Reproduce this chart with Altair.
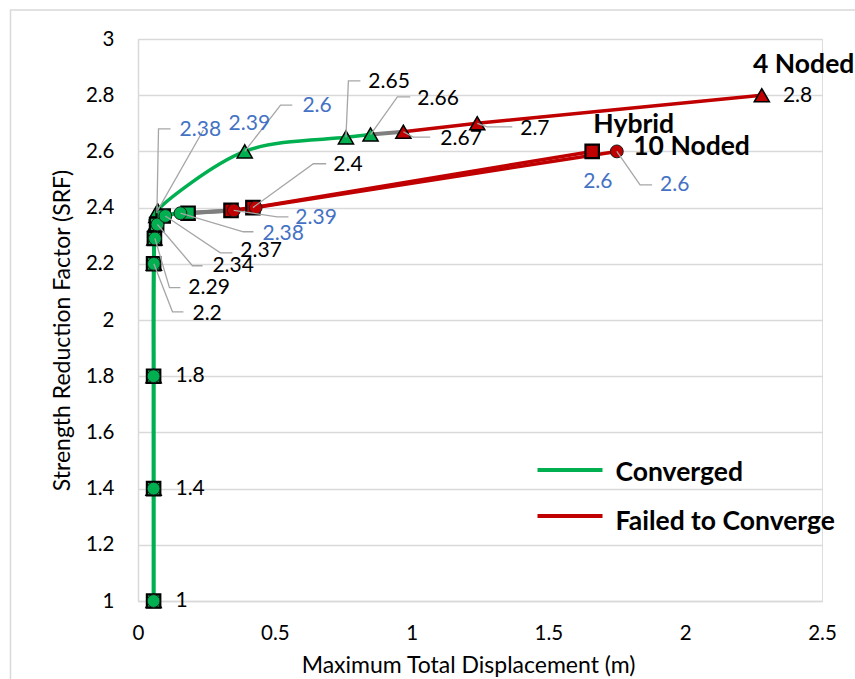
import altair as alt
import pandas as pd

# ---------------- data ----------------
srf_4n = [1.0, 1.4, 1.8, 2.2, 2.29, 2.34, 2.37, 2.38, 2.39, 2.6, 2.65, 2.66, 2.67, 2.7, 2.8]
disp_4n = [0.057, 0.057, 0.057, 0.058, 0.060, 0.064, 0.067, 0.069, 0.072, 0.39, 0.76, 0.85, 0.97, 1.24, 2.28]
stat_4n = ["C"] * 12 + ["F"] * 3

srf_hy = [1.0, 1.4, 1.8, 2.2, 2.29, 2.34, 2.37, 2.38, 2.39, 2.4, 2.6]
disp_hy = [0.057, 0.057, 0.057, 0.057, 0.060, 0.068, 0.092, 0.183, 0.34, 0.42, 1.66]
stat_hy = ["C"] * 8 + ["F"] * 3

srf_10 = [1.0, 1.4, 1.8, 2.2, 2.29, 2.34, 2.37, 2.38, 2.39, 2.4, 2.6]
disp_10 = [0.057, 0.057, 0.057, 0.058, 0.062, 0.071, 0.10, 0.155, 0.35, 0.43, 1.75]
stat_10 = ["C"] * 8 + ["F"] * 3

series_names = ["4 Noded", "Hybrid", "10 Noded"]
x_ticks = [0, 0.5, 1, 1.5, 2, 2.5]
y_ticks = [1, 1.2, 1.4, 1.6, 1.8, 2, 2.2, 2.4, 2.6, 2.8, 3]
legend_labels = ["Converged", "Failed to Converge"]

# data labels: text, series, srf of the point, colour
lab_text = ["2.38", "2.39", "2.6", "2.65", "2.66", "2.67", "2.7", "2.8",
            "2.6", "2.6", "2.4", "2.39", "2.38", "2.37", "2.34", "2.29", "2.2",
            "1.8", "1.4", "1"]
lab_series = ["4 Noded"] * 8 + ["Hybrid", "10 Noded", "Hybrid", "10 Noded", "10 Noded",
                                "10 Noded", "10 Noded", "10 Noded", "10 Noded",
                                "10 Noded", "10 Noded", "10 Noded"]
lab_srf = [2.38, 2.39, 2.6, 2.65, 2.66, 2.67, 2.7, 2.8,
           2.6, 2.6, 2.4, 2.39, 2.38, 2.37, 2.34, 2.29, 2.2, 1.8, 1.4, 1.0]
BLUE = "#4472C4"
BLACK = "#000000"
lab_color = [BLUE, BLUE, BLUE, BLACK, BLACK, BLACK, BLACK, BLACK,
             BLUE, BLUE, BLACK, BLUE, BLUE, BLACK, BLACK, BLACK, BLACK,
             BLACK, BLACK, BLACK]

# label placement (data units): text left edge / centre line
lab_px = [0.152, 0.331, 0.601, 0.842, 1.021, 1.105, 1.397, 2.357,
          1.627, 1.908, 0.714, 0.575, 0.455, 0.374, 0.272, 0.184, 0.199,
          0.137, 0.137, 0.137]
lab_py = [2.676, 2.698, 2.760, 2.847, 2.787, 2.644, 2.680, 2.797,
          2.492, 2.481, 2.552, 2.364, 2.307, 2.246, 2.193, 2.115, 2.022,
          1.8, 1.4, 1.0]
# leader lines: label index -> elbow and end (data units)
leaders = [
    (0, 0.075, 2.680, 0.119, 2.680),
    (1, 0.239, 2.676, 0.239, 2.676),
    (2, 0.521, 2.765, 0.564, 2.765),
    (3, 0.769, 2.851, 0.813, 2.851),
    (4, 0.948, 2.794, 0.995, 2.794),
    (5, 1.006, 2.651, 1.068, 2.651),
    (6, 1.276, 2.687, 1.368, 2.687),
    (9, 1.835, 2.481, 1.879, 2.481),
    (10, 0.641, 2.556, 0.688, 2.556),
    (11, 0.509, 2.367, 0.550, 2.367),
    (12, 0.385, 2.314, 0.422, 2.314),
    (13, 0.301, 2.239, 0.345, 2.239),
    (14, 0.199, 2.193, 0.236, 2.193),
    (15, 0.115, 2.115, 0.155, 2.115),
    (16, 0.126, 2.029, 0.166, 2.029),
]

# series name labels
name_text = ["4 Noded", "Hybrid", "10 Noded"]
name_px = [2.248, 1.664, 1.810]
name_py = [2.908, 2.694, 2.616]

# ---------------- tables ----------------
GREEN = "#00B050"
RED = "#C00000"
GAP = "#7F7F7F"

raw = {
    "4 Noded": (disp_4n, srf_4n, stat_4n),
    "Hybrid": (disp_hy, srf_hy, stat_hy),
    "10 Noded": (disp_10, srf_10, stat_10),
}

pts = []
lines = []
for s, (xs, ys, st) in raw.items():
    for i, (x, y, c) in enumerate(zip(xs, ys, st)):
        pts.append({"series": s, "i": i, "x": x, "srf": y,
                    "fill": GREEN if c == "C" else RED})
        lines.append({"grp": s + "-C" if c == "C" else s + "-F",
                      "seg": "C" if c == "C" else "F", "i": i, "x": x, "srf": y})
    last_c = max(i for i, c in enumerate(st) if c == "C")
    first_f = min(i for i, c in enumerate(st) if c == "F")
    for i in (last_c, first_f):
        lines.append({"grp": s + "-G", "seg": "G", "i": i, "x": xs[i], "srf": ys[i]})

pts_df = pd.DataFrame(pts)
lines_df = pd.DataFrame(lines)


def point_of(series, srf):
    xs, ys, _ = raw[series]
    k = ys.index(srf)
    return xs[k], ys[k]


lab_df = pd.DataFrame({"text": lab_text, "x": lab_px, "srf": lab_py, "color": lab_color})

lead_rows = []
for (li, ex, ey, fx, fy) in leaders:
    px, py = point_of(lab_series[li], lab_srf[li])
    lead_rows += [
        {"lid": li, "o": 0, "x": px, "srf": py},
        {"lid": li, "o": 1, "x": ex, "srf": ey},
        {"lid": li, "o": 2, "x": fx, "srf": fy},
    ]
lead_df = pd.DataFrame(lead_rows)
name_df = pd.DataFrame({"text": name_text, "x": name_px, "srf": name_py})

FONT = "Lato"

xscale = alt.Scale(domain=[0, 2.5], nice=False, zero=False)
yscale = alt.Scale(domain=[1, 3], nice=False, zero=False)

x_axis = alt.Axis(
    values=x_ticks, format="~g", title="Maximum Total Displacement (m)",
    grid=False, ticks=False, domainColor="#D9D9D9", domainWidth=1.5,
    labelPadding=22, titlePadding=11, labelFont=FONT, labelFontSize=20.5,
    labelFlush=False, labelColor="#000000", titleFont=FONT, titleFontSize=23,
    titleFontWeight="normal", titleColor="#000000", titleX=330, titleAlign="center")
y_axis = alt.Axis(
    values=y_ticks, format="~g", title="Strength Reduction Factor (SRF)",
    grid=True, gridColor="#D9D9D9", gridWidth=1.5, ticks=False,
    domainColor="#D9D9D9", domainWidth=1.5, labelPadding=24, titlePadding=11,
    labelFont=FONT, labelFontSize=20.5, labelColor="#000000", titleFont=FONT,
    titleFontSize=23, titleFontWeight="normal", titleColor="#000000", titleY=291,
    titleAlign="center")
X = alt.X("x:Q", scale=xscale, axis=x_axis)
Y = alt.Y("srf:Q", scale=yscale, axis=y_axis)

border = alt.Chart(pd.DataFrame({"a": [0]})).mark_rect(
    fill="white", fillOpacity=0, stroke="#D9D9D9", strokeWidth=1.5
).encode(x=alt.value(-127.5), x2=alt.value(800), y=alt.value(-29), y2=alt.value(700))

green_lines = alt.Chart(lines_df[lines_df.seg == "C"]).mark_line(
    color=GREEN, strokeWidth=3.5, interpolate="catmull-rom"
).encode(x=X, y=Y, detail="grp:N", order="i:Q")

gap_lines = alt.Chart(lines_df[lines_df.seg == "G"]).mark_line(
    color=GAP, strokeWidth=4
).encode(x=X, y=Y, detail="grp:N", order="i:Q")

red_lines = alt.Chart(lines_df[lines_df.seg == "F"]).mark_line(
    color=RED, strokeWidth=3.5
).encode(x=X, y=Y, detail="grp:N", order="i:Q")

tri = alt.Chart(pts_df[pts_df.series == "4 Noded"]).mark_point(
    shape="triangle-up", filled=True, size=230, stroke="black", strokeWidth=1.5, opacity=1
).encode(x=X, y=Y, fill=alt.Fill("fill:N", scale=None))

sq = alt.Chart(pts_df[pts_df.series == "Hybrid"]).mark_point(
    shape="square", filled=True, size=180, stroke="black", strokeWidth=2.2, opacity=1
).encode(x=X, y=Y, fill=alt.Fill("fill:N", scale=None))

circ = alt.Chart(pts_df[pts_df.series == "10 Noded"]).mark_point(
    shape="circle", filled=True, size=165, stroke="#1a1a1a", strokeWidth=1, opacity=1
).encode(x=X, y=Y, fill=alt.Fill("fill:N", scale=None))

lead = alt.Chart(lead_df).mark_line(color="#A6A6A6", strokeWidth=1.3).encode(
    x=X, y=Y, detail="lid:N", order="o:Q")

labels = alt.Chart(lab_df).mark_text(
    align="left", baseline="middle", font=FONT, fontSize=21
).encode(x=X, y=Y, text="text:N", color=alt.Color("color:N", scale=None))

names = alt.Chart(name_df).mark_text(
    align="left", baseline="middle", font=FONT, fontSize=26.5, fontWeight="bold", color="black"
).encode(x=X, y=Y, text="text:N")

# manual legend
leg_df = pd.DataFrame({"label": legend_labels})
leg1 = alt.Chart(leg_df.iloc[[0]]).mark_rule(color=GREEN, strokeWidth=4).encode(
    x=alt.value(399.5), x2=alt.value(464.5), y=alt.value(431))
leg2 = alt.Chart(leg_df.iloc[[1]]).mark_rule(color=RED, strokeWidth=4).encode(
    x=alt.value(399.5), x2=alt.value(464.5), y=alt.value(477))
legt1 = alt.Chart(leg_df.iloc[[0]]).mark_text(
    align="left", baseline="middle", font=FONT, fontSize=26.5, fontWeight="bold", color="black"
).encode(x=alt.value(477.5), y=alt.value(434), text="label:N")
legt2 = alt.Chart(leg_df.iloc[[1]]).mark_text(
    align="left", baseline="middle", font=FONT, fontSize=26.5, fontWeight="bold", color="black"
).encode(x=alt.value(477.5), y=alt.value(483), text="label:N")

chart = alt.layer(
    border, green_lines, gap_lines, red_lines, tri, sq, circ, lead, labels, names,
    leg1, leg2, legt1, legt2
).properties(
    width=684, height=562,
    autosize=alt.AutoSizeParams(type="none"),
    padding={"left": 138, "top": 39, "right": 33, "bottom": 78},
    background="white",
).configure_view(strokeWidth=0, stroke="transparent").configure(font=FONT)

chart.save("out.html", embed_options={"renderer": "svg", "actions": False})
